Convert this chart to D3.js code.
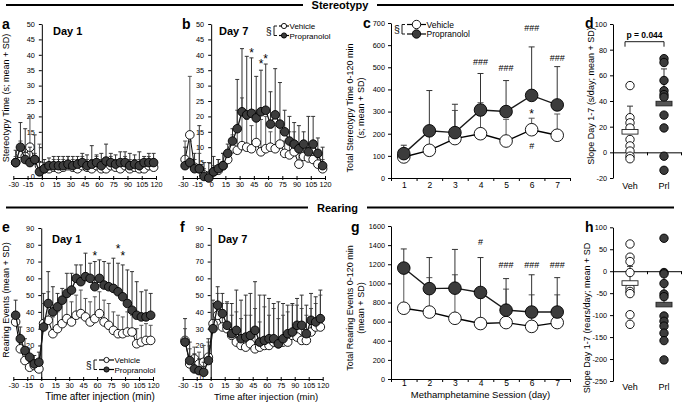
<!DOCTYPE html>
<html><head><meta charset="utf-8">
<script src="https://cdn.jsdelivr.net/npm/d3@7"></script>
<style>
body{margin:0;background:#fff;}
svg{display:block;font-family:"Liberation Sans",Arial,sans-serif;}
</style></head><body>
<svg id="chart" width="684" height="403"></svg>
<script>
// ---------- DATA ----------
const timeBins = [-27.5,-22.5,-17.5,-12.5,-7.5,-2.5,2.5,7.5,12.5,17.5,22.5,27.5,32.5,37.5,42.5,47.5,52.5,57.5,62.5,67.5,72.5,77.5,82.5,87.5,92.5,97.5,102.5,107.5,112.5,117.5];
const timeTicks = [-30,-15,0,15,30,45,60,75,90,105,120];

// Panel a: stereotypy day 1 (mean, mean+SD)
const stereoD1Veh = [5,8,7,10,6,4, 3,3,3.5,3,3.5,4, 3.5,3,4,3.5,3,4, 3,3,4,3.5,3,4, 3,3.5,3,3,4,3.5];
const stereoD1VehTop = [7,12,10,20,8,11, 5,5,6,6,6,7, 6,6,7,6,6,7, 6,6,7,6,6,7, 6,6,6,6,7,6];
const stereoD1Prl = [5,10,6,5,6,2, 3,4,4,4,4,4.5, 4,4.5,5,4,4.5,5, 4,5.5,5,4.5,5,5, 4,4.5,4,5,5,5];
const stereoD1PrlTop = [9,18,16,10,14,5, 6,6.5,7,7,7,7, 7,7,8,7.5,10.5,7.5, 8,11,8,7.5,8.5,8.5, 8,7.5,8.5,7,8,8];
// Panel b: stereotypy day 7
const stereoD7Veh = [6,14,3.5,3,1,0.5, 2,2.5,4,6,9.5,9, 10.5,10,9.5,11.5,8.5,9.5, 10,9.5,11,8,7.5,8.5, 4.5,7,6.5,6,4.5,3];
const stereoD7VehTop = [12,33,6,8,3,2, 4,6,8,9,14,22, 26,19,17,22,19,20, 15,17,18,12,15,15, 8,11,10,8,7,6];
const stereoD7Prl = [4,5,3,3,0.5,0, 2,3,4,8,12,16, 21.5,20.5,21,19.5,21.5,22, 17.5,20.5,17.5,15,12,11, 9.5,11,8.5,11,8,4];
const stereoD7PrlTop = [10,12,8,17,5,5, 7,6,8,11,16,32, 42,39.5,39,33,35,37, 28,35.5,31,22,20,18, 17,15,20,20,13,10];
const stereoD7Stars = [[42.5,41],[52.5,37.3],[57.5,39]];
// Panel e: rearing day 1
const rearD1Veh = [34,18,11,7,8,6, 33,35,27,30,33,36, 34,38,39,37,34,36, 39,34,32,29,27,27, 28,28,21,22,23,23];
const rearD1VehTop = [40,25,18,12,10,10, 45,52,37,40,45,52, 46,50,53,48,46,49, 52,47,45,40,38,37, 40,38,30,32,33,32];
const rearD1Prl = [38,24,17,13,9,10, 31,45,40,43,47,51, 53,60,58,61,60,55, 60,56,55,54,52,49, 45,41,38,37,37,38];
const rearD1PrlTop = [47,31,24,18,14,16, 51,64,55,51,54,63, 63,68,68,75,69,70, 71,70,69,72,69,68, 65,64,58,52,53,51];
const rearD1Stars = [[57.5,74],[82.5,78],[87.5,74]];
// Panel f: rearing day 7
const rearD7Veh = [23,9,12,9,10,13, 33,38,31,30,26,22, 20,19,21,18,19,20, 20,22,21,22,22,26, 25,23,23,28,31,31];
const rearD7VehTop = [30,18,19,16,20,22, 45,51,45,45,38,40, 36,38,38,42,34,43, 38,42,36,38,40,44, 44,42,38,42,45,50];
const rearD7Prl = [22,11,6,5,4,11, 30,44,39,32,27,29, 24,25,26,29,22,23, 24,24,21,24,27,28, 32,32,27,35,34,36];
const rearD7PrlTop = [36,22,15,12,10,24, 47,55,51,46,45,53, 47,50,51,58,50,50, 48,45,46,45,44,45, 48,50,44,51,49,53];

// Panel c: total stereotypy per session
const sessions = [1,2,3,4,5,6,7];
const stereoTotVeh = [95,125,178,200,167,218,193];
const stereoTotVehTop = [120,200,305,340,265,270,289];
const stereoTotPrl = [110,213,205,307,300,373,330];
const stereoTotPrlTop = [148,395,333,472,440,592,503];
const stereoTotMarks = [[4,525,"###"],[5,497,"###"],[6,677,"###"],[7,542,"###"],[6,295,"*"],[6,145,"#"]];
// Panel g: total rearing per session
const rearTotVeh = [740,700,635,580,590,550,590];
const rearTotVehTop = [1200,1060,1090,880,940,880,880];
const rearTotPrl = [1160,945,950,905,720,700,700];
const rearTotPrlTop = [1360,1270,1355,1270,1050,1090,1060];
const rearTotMarks = [[4,1436,"#"],[5,1192,"###"],[6,1192,"###"],[7,1192,"###"]];

// Panel d: slope stereotypy
const groups = ["Veh","Prl"];
const slopeStereoVeh = [52,27,23,19,10,5,1,-3,-5];
const slopeStereoPrl = [73,70,56,48,45,43,29,19,-3,-14];
const slopeStereoMean = [16,38];
const slopeStereoTop = [36,65];
// Panel h: slope rearing
const slopeRearVeh = [62,32,22,-3,-38,-46,-51,-99,-121];
const slopeRearPrl = [75,-3,-6,-28,-52,-58,-102,-114,-125,-141,-158,-202];
const slopeRearMean = [-27,-76];
const slopeRearTop = [11,-5];

// ---------- DRAW ----------
const svg = d3.select("#chart");
const DARK = "#3c3c3c";
const fmt = d => String(d);

function styleAxis(g, size) {
  g.selectAll("path.domain").attr("stroke", "#000").attr("stroke-width", 1);
  g.selectAll(".tick line").attr("stroke", "#000");
  g.selectAll(".tick text").attr("font-size", size || 8).attr("fill", "#000")
    .attr("font-family", '"Liberation Sans", Arial, sans-serif');
}

function rotText(x, y, t, size) {
  svg.append("text").attr("transform", `translate(${x},${y}) rotate(-90)`)
    .attr("text-anchor", "middle").attr("dominant-baseline", "middle")
    .attr("font-size", size).text(t);
}

function txt(x, y, t, size, weight, anchor) {
  return svg.append("text").attr("x", x).attr("y", y).attr("font-size", size)
    .attr("font-weight", weight || "normal").attr("text-anchor", anchor || "start").text(t);
}

function series(g, xs, ys, tops, x, y, filled, r, cap, lw) {
  const col = filled ? "#333" : "#555";
  xs.forEach((xv, i) => {
    g.append("line").attr("x1", x(xv)).attr("x2", x(xv)).attr("y1", y(ys[i])).attr("y2", y(tops[i]))
      .attr("stroke", col).attr("stroke-width", 1);
    g.append("line").attr("x1", x(xv) - cap).attr("x2", x(xv) + cap).attr("y1", y(tops[i])).attr("y2", y(tops[i]))
      .attr("stroke", col).attr("stroke-width", 1);
  });
  const line = d3.line().x((d, i) => x(xs[i])).y(d => y(d));
  g.append("path").attr("d", line(ys)).attr("fill", "none").attr("stroke", filled ? "#1a1a1a" : "#000").attr("stroke-width", lw);
  g.selectAll(null).data(ys).join("circle")
    .attr("cx", (d, i) => x(xs[i])).attr("cy", d => y(d)).attr("r", r)
    .attr("fill", filled ? DARK : "#fff").attr("stroke", "#000").attr("stroke-width", 0.9);
}

function legend(x, y1, y2, size, r, lineW) {
  const ym = (y1 + y2) / 2;
  txt(x, ym + 4, "§", size + 2, "normal");
  const bx = x + 8;
  svg.append("path").attr("d", `M${bx + 3},${y1} H${bx} V${y2} H${bx + 3}`).attr("fill", "none").attr("stroke", "#000").attr("stroke-width", 0.9);
  const lx0 = bx + 5, lx1 = lx0 + lineW;
  [[y1, false, "Vehicle"], [y2, true, "Propranolol"]].forEach(([yy, f, t]) => {
    svg.append("line").attr("x1", lx0).attr("x2", lx1).attr("y1", yy).attr("y2", yy).attr("stroke", "#000").attr("stroke-width", 1.2);
    svg.append("circle").attr("cx", (lx0 + lx1) / 2).attr("cy", yy).attr("r", r)
      .attr("fill", f ? DARK : "#fff").attr("stroke", "#000").attr("stroke-width", 0.9);
    txt(lx1 + 0.5, yy + 3, t, size);
  });
}

function timePanel(o) {
  const g = svg.append("g");
  const x = d3.scaleLinear().domain([-30, 120]).range(o.xr);
  const y = d3.scaleLinear().domain([0, o.ymax]).range([o.y0, o.ytop]);
  const xa = g.append("g").attr("transform", `translate(0,${y(0)})`)
    .call(d3.axisBottom(x).tickValues(timeTicks).tickSize(2).tickSizeOuter(0).tickPadding(1.5).tickFormat(fmt));
  xa.selectAll(".tick line").attr("y1", -2).attr("y2", 2);
  styleAxis(xa, 7.3);
  const ya = g.append("g").attr("transform", `translate(${x(0)},0)`)
    .call(d3.axisLeft(y).tickValues(d3.range(0, o.ymax + 0.1, o.step)).tickSize(3).tickSizeOuter(0).tickPadding(4).tickFormat(fmt));
  styleAxis(ya, 7.3);
  ya.selectAll(".tick text").filter(d => d === 0).attr("y", -2.2);
  series(g, timeBins, o.veh, o.vehTop, x, y, false, 4.3, 2, 1);
  series(g, timeBins, o.prl, o.prlTop, x, y, true, 4.3, 2, 1.3);
  (o.stars || []).forEach(([t, v]) => txt(x(t), y(v) + 5, "*", 12, "normal", "middle"));
  return { x, y };
}

function sessionPanel(o) {
  const g = svg.append("g");
  const x = d3.scaleLinear().domain([0.5, 7.5]).range([391, 570]);
  const y = d3.scaleLinear().domain([0, o.ymax]).range([o.y0, o.ytop]);
  const xa = g.append("g").attr("transform", `translate(0,${y(0)})`)
    .call(d3.axisBottom(x).tickValues(d3.range(0.5, 7.6, 1)).tickSize(3).tickSizeOuter(0).tickFormat(""));
  styleAxis(xa, 8.5);
  const xl = g.append("g").attr("transform", `translate(0,${y(0)})`)
    .call(d3.axisBottom(x).tickValues(sessions).tickSize(0).tickPadding(o.labPad).tickFormat(fmt));
  xl.select("path.domain").remove();
  styleAxis(xl, 8.5);
  const ya = g.append("g").attr("transform", `translate(${x(0.5)},0)`)
    .call(d3.axisLeft(y).tickValues(d3.range(0, o.ymax + 0.1, o.step)).tickSize(3).tickSizeOuter(0).tickPadding(3).tickFormat(fmt));
  styleAxis(ya, 7.3);
  series(g, sessions, o.veh, o.vehTop, x, y, false, 6.3, 3, 1.4);
  series(g, sessions, o.prl, o.prlTop, x, y, true, 6.3, 3, 1.4);
  o.marks.forEach(([s, v, t]) => txt(x(s), y(v) + (t === "*" ? 5 : 3), t, t === "*" ? 12 : 9, "normal", "middle"));
  return { x, y };
}

function slopePanel(o) {
  const g = svg.append("g");
  const x = d3.scaleLinear().domain([0, 2]).range([613, 681]);
  const y = d3.scaleLinear().domain([o.ymin, o.ymax]).range([o.y0, o.ytop]);
  const ya = g.append("g").attr("transform", `translate(${x(0)},0)`)
    .call(d3.axisLeft(y).tickValues(d3.range(o.ymin, o.ymax + 0.1, o.step)).tickSize(3).tickSizeOuter(0).tickPadding(3).tickFormat(fmt));
  styleAxis(ya, 7.3);
  const za = g.append("g").attr("transform", `translate(0,${y(0)})`)
    .call(d3.axisBottom(x).tickValues([1, 2]).tickSize(3).tickSizeOuter(0).tickFormat(""));
  styleAxis(za);
  groups.forEach((gr, i) => txt(x(i + 0.5), o.labelY, gr, 9, "normal", "middle"));
  [o.veh, o.prl].forEach((vals, i) => {
    const cx = x(i + 0.5);
    g.append("line").attr("x1", cx).attr("x2", cx).attr("y1", y(o.mean[i])).attr("y2", y(o.top[i])).attr("stroke", "#333");
    g.append("line").attr("x1", cx - 3).attr("x2", cx + 3).attr("y1", y(o.top[i])).attr("y2", y(o.top[i])).attr("stroke", "#333");
    g.selectAll(null).data(vals).join("circle").attr("cx", cx).attr("cy", d => y(d)).attr("r", 4.2)
      .attr("fill", i ? DARK : "#fff").attr("stroke", "#000").attr("stroke-width", 0.9);
    g.append("rect").attr("x", cx - 8).attr("y", y(o.mean[i]) - 2.3).attr("width", 16).attr("height", 4.6)
      .attr("fill", i ? "#555" : "#fff").attr("stroke", "#222").attr("stroke-width", 0.9);
  });
  return { x, y };
}

// Section headers
function header(y, gl, gr, t) {
  svg.append("line").attr("x1", 6).attr("x2", gl).attr("y1", y).attr("y2", y).attr("stroke", "#000").attr("stroke-width", 2);
  svg.append("line").attr("x1", gr).attr("x2", 674).attr("y1", y).attr("y2", y).attr("stroke", "#000").attr("stroke-width", 2);
  txt((gl + gr) / 2, y + 4, t, 11, "bold", "middle");
}
header(5, 303, 377, "Stereotypy");
header(207.5, 308, 367, "Rearing");

// Panels
timePanel({ xr: [13.3, 156], y0: 178, ytop: 24, ymax: 50, step: 5, veh: stereoD1Veh, vehTop: stereoD1VehTop, prl: stereoD1Prl, prlTop: stereoD1PrlTop });
timePanel({ xr: [182.7, 325], y0: 178, ytop: 24, ymax: 50, step: 5, veh: stereoD7Veh, vehTop: stereoD7VehTop, prl: stereoD7Prl, prlTop: stereoD7PrlTop, stars: stereoD7Stars });
timePanel({ xr: [13.3, 153], y0: 379, ytop: 228, ymax: 90, step: 10, veh: rearD1Veh, vehTop: rearD1VehTop, prl: rearD1Prl, prlTop: rearD1PrlTop, stars: rearD1Stars });
timePanel({ xr: [182.7, 322.7], y0: 379, ytop: 228, ymax: 90, step: 10, veh: rearD7Veh, vehTop: rearD7VehTop, prl: rearD7Prl, prlTop: rearD7PrlTop });

sessionPanel({ y0: 178, ytop: 23, ymax: 700, step: 100, labPad: 4, veh: stereoTotVeh, vehTop: stereoTotVehTop, prl: stereoTotPrl, prlTop: stereoTotPrlTop, marks: stereoTotMarks });
sessionPanel({ y0: 379, ytop: 226, ymax: 1600, step: 200, labPad: 1, veh: rearTotVeh, vehTop: rearTotVehTop, prl: rearTotPrl, prlTop: rearTotPrlTop, marks: rearTotMarks });

slopePanel({ y0: 178, ytop: 24, ymin: -20, ymax: 100, step: 20, veh: slopeStereoVeh, prl: slopeStereoPrl, mean: slopeStereoMean, top: slopeStereoTop, labelY: 189 });
slopePanel({ y0: 381, ytop: 227.3, ymin: -250, ymax: 100, step: 50, veh: slopeRearVeh, prl: slopeRearPrl, mean: slopeRearMean, top: slopeRearTop, labelY: 389.5 });

// p-value bracket in d
svg.append("path").attr("d", `M625,46.7 V41.7 H664 V46.7`).attr("fill", "none").attr("stroke", "#000").attr("stroke-width", 0.9);
txt(644.5, 38, "p = 0.044", 8.5, "bold", "middle");

// Panel letters
[["a", 2, 29], ["b", 182, 29], ["c", 363, 28], ["d", 585, 28], ["e", 2, 231.5], ["f", 180, 231.5], ["g", 351, 231.5], ["h", 585, 231.5]]
  .forEach(([l, x, y]) => txt(x, y, l, 14, "bold"));

// Day labels
txt(53, 35, "Day 1", 11, "bold");
txt(219, 35, "Day 7", 11, "bold");
txt(52, 243, "Day 1", 11, "bold");
txt(218, 243, "Day 7", 11, "bold");

// Legends
legend(266, 26, 35.5, 8, 2.6, 10);
legend(394, 24.5, 34, 8.5, 4.2, 19);
legend(86, 360, 369.5, 8, 2.6, 15);

// Axis titles
rotText(7, 98, "Stereotypy Time (s; mean + SD)", 9);
rotText(351, 108, "Total Stereotypy Time 0-120 min", 9);
rotText(362, 108, "(s; mean + SD)", 9);
rotText(592, 96, "Slope Day 1-7 (s/day; mean + SD)", 9);
rotText(7, 300, "Rearing Events (mean + SD)", 9);
rotText(351, 308, "Total Rearing Events 0-120 min", 9);
rotText(362, 308, "(mean + SD)", 9);
rotText(588, 318, "Slope Day 1-7 (rears/day; mean + SD", 9);
txt(100, 400, "Time after injection (min)", 10, "normal", "middle");
txt(266, 400, "Time after injection (min)", 9.5, "normal", "middle");
txt(480.5, 398, "Methamphetamine Session (day)", 9.5, "normal", "middle");
</script>
</body></html>
